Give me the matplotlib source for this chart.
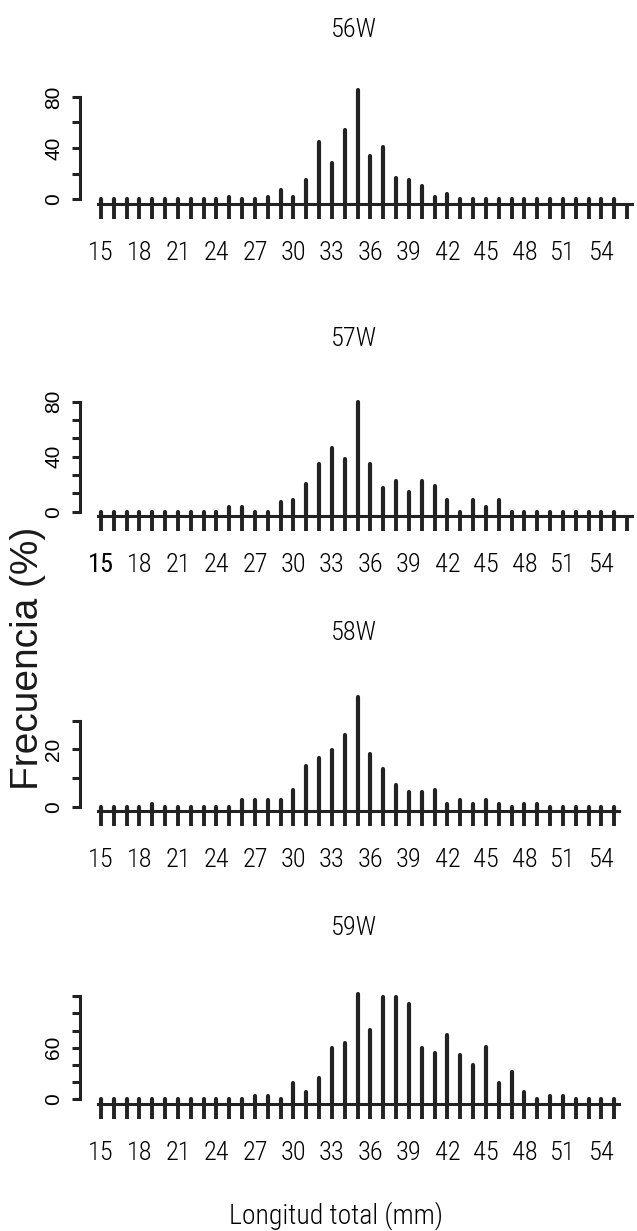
import matplotlib
matplotlib.use('Agg')
import matplotlib.pyplot as plt
import numpy as np

# longitud total (mm), una barra por clase
longitud = np.arange(15, 56)

frec_56w = [0, 0, 0, 0, 0, 0, 0, 0, 0, 0,
            2, 0, 0, 2, 7, 2, 15, 45, 28, 54, 85, 34, 41, 17, 15, 10, 2, 4,
            0, 0, 0, 0, 0, 0, 0, 0, 0, 0, 0, 0, 0]
frec_57w = [0, 0, 0, 0, 0, 0, 0, 0, 0, 0,
            3.6, 3.6, 0, 0, 7, 8.5, 20.5, 34.5, 46.5, 38, 80, 34.5, 17.5, 22,
            14, 22, 19, 8.5, 0, 8.5, 3.6, 8.5,
            0, 0, 0, 0, 0, 0, 0, 0, 0]
frec_58w = [0, 0, 0, 0, 1, 0, 0, 0, 0, 0, 0,
            2.5, 2.5, 2.5, 2.5, 5.8, 14.3, 16.8, 19.9, 24.9, 38.3, 18.2, 13.3,
            7.5, 5.1, 5.1, 5.8, 1, 2.5, 1, 2.5, 1, 0, 1, 1,
            0, 0, 0, 0, 0, 0]
frec_59w = [0, 0, 0, 0, 0, 0, 0, 0, 0, 0, 0, 0,
            3.4, 3.4, 0, 19, 8, 24, 60, 65, 123, 81, 119, 119, 111, 60, 54, 75,
            51, 40, 61, 19, 32, 8, 0, 3.4, 3.4,
            0, 0, 0, 0]

titulos = ['56W', '57W', '58W', '59W']
series = [frec_56w, frec_57w, frec_58w, frec_59w]
yticks = [[0, 20, 40, 60, 80],
          list(np.linspace(0, 80, 7)),
          [0, 10, 20, 30],
          [0, 20, 40, 60, 80, 100, 120]]
ylabels = [['0', '', '40', '', '80'],
           ['0', '', '', '40', '', '', '80'],
           ['0', '', '20', ''],
           ['0', '', '', '60', '', '', '']]
ultimo_tick = [56, 56, 55, 55]

W, H = 637, 1231
ink = '#222222'
narrow = ['Liberation Sans Narrow', 'Roboto Condensed', 'Liberation Sans']

fig = plt.figure(figsize=(W / 100, H / 100), dpi=100)

# geometria de cada panel en pixeles: nivel 0, px por unidad, limites y
geo = [(199.3, 1.28, -3.7, 88),
       (511.7, 1.375, -2.8, 82),
       (806.7, 2.87, -1.4, 40),
       (1099.0, 0.855, -6.0, 125)]
titulo_y = [30, 339, 633, 928]

x_left_px, x15_px, dx = 79.5, 101.0, 12.83
xmin = 15 - (x15_px - x_left_px) / dx
xmax = 15 + (W - x15_px) / dx

for i in range(4):
    y0, k, ybot, ytop = geo[i]
    bot_px = y0 - ybot * k
    top_px = y0 - ytop * k
    ax = fig.add_axes([x_left_px / W, 1 - bot_px / H,
                       1 - x_left_px / W, (bot_px - top_px) / H])
    ax.set_xlim(xmin, xmax)
    ax.set_ylim(ybot, ytop)
    ax.patch.set_alpha(0)

    ax.vlines(longitud, ybot, series[i], colors=ink, linewidth=3.0,
              capstyle='round', clip_on=False)

    for s in ['top', 'right']:
        ax.spines[s].set_visible(False)
    ax.spines['left'].set_bounds(0, yticks[i][-1])
    ax.spines['bottom'].set_bounds(14.8, ultimo_tick[i] + 0.4)
    for s in ['left', 'bottom']:
        ax.spines[s].set_linewidth(2.2)
        ax.spines[s].set_color(ink)

    xt = list(range(15, ultimo_tick[i] + 1))
    ax.set_xticks(xt)
    ax.set_xticklabels([str(t) if (t - 15) % 3 == 0 and t <= 54 else '' for t in xt],
                       fontfamily=narrow, fontsize=19, fontweight='light')
    ax.tick_params(axis='x', length=10.8, width=2.8, pad=16, color=ink)
    if i == 1:
        ax.get_xticklabels()[0].set_fontweight('normal')

    ax.set_yticks(yticks[i])
    ax.set_yticklabels(ylabels[i], rotation=90, va='center',
                       fontfamily='Liberation Sans', fontsize=15)
    ax.tick_params(axis='y', length=5.8, width=2.2, pad=6, color=ink)

    fig.text(354 / W, 1 - titulo_y[i] / H, titulos[i], ha='center', va='center',
             fontfamily=narrow, fontsize=19, fontweight='light')

fig.text(28 / W, 1 - 658 / H, 'Frecuencia (%)', rotation=90, ha='center',
         va='center', fontfamily='Liberation Sans', fontsize=28, color='#1a1a1a')
fig.text(336 / W, 1 - 1216 / H, 'Longitud total (mm)', ha='center', va='center',
         fontfamily=narrow, fontsize=20, fontweight='light')

fig.savefig('out.png', dpi=100)
